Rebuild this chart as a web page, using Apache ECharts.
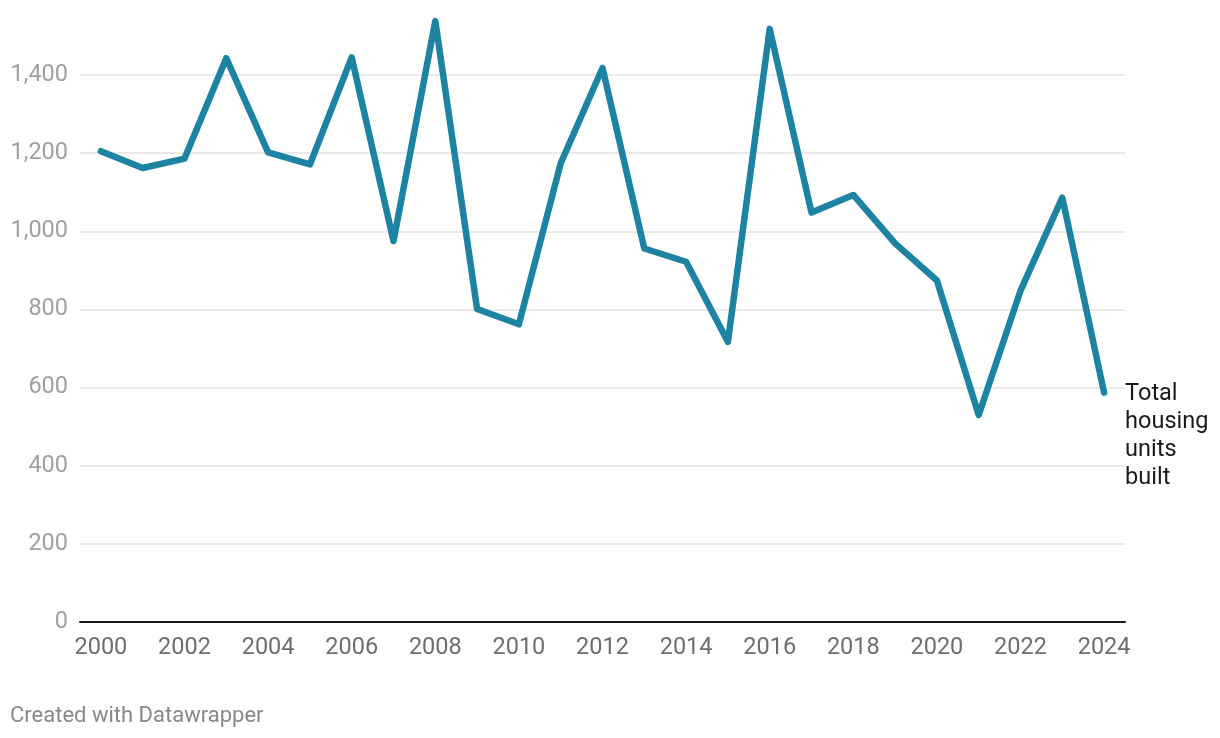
<!DOCTYPE html>
<html>
<head>
<meta charset="utf-8">
<script src="https://cdn.jsdelivr.net/npm/echarts@6/dist/echarts.min.js"></script>
<style>
  html, body { margin: 0; padding: 0; background: #fff; }
  #chart { width: 1220px; height: 738px; }
</style>
</head>
<body>
<div id="chart"></div>
<script>
const years = ['2000','2001','2002','2003','2004','2005','2006','2007','2008','2009','2010','2011','2012','2013','2014','2015','2016','2017','2018','2019','2020','2021','2022','2023','2024'];
const housingUnits = [1205, 1162, 1186, 1443, 1202, 1171, 1445, 975, 1538, 801, 762, 1174, 1418, 956, 922, 717, 1518, 1048, 1093, 969, 874, 530, 848, 1086, 587];
const seriesLabel = 'Total\nhousing\nunits\nbuilt';
const footer = 'Created with Datawrapper';

const chart = echarts.init(document.getElementById('chart'));
chart.setOption({
  backgroundColor: '#ffffff',
  animation: false,
  textStyle: { fontFamily: 'Roboto' },
  grid: { left: 80, right: 95, top: 75, bottom: 116, containLabel: false },
  xAxis: {
    type: 'category',
    data: years,
    boundaryGap: true,
    axisLine: { show: true, lineStyle: { color: '#1a1a1a', width: 2 } },
    axisTick: { show: false },
    axisLabel: { interval: 1, color: '#6e6e6e', fontSize: 23.5, margin: 14, fontFamily: 'Roboto' },
    splitLine: { show: false }
  },
  yAxis: {
    type: 'value',
    min: 0, max: 1400, interval: 200,
    axisLine: { show: false },
    axisTick: { show: false },
    axisLabel: {
      color: '#a0a0a0', fontSize: 23.5, margin: 12, fontFamily: 'Roboto',
      formatter: v => v.toLocaleString('en-US')
    },
    splitLine: { show: true, lineStyle: { color: '#e3e3e3', width: 1.5 } }
  },
  series: [{
    type: 'line',
    data: housingUnits,
    clip: false,
    symbol: 'none',
    lineStyle: { color: '#1d83a3', width: 6.5, join: 'round', cap: 'round' },
    itemStyle: { color: '#1d83a3' },
    endLabel: {
      show: true,
      formatter: seriesLabel,
      color: '#1a1a1a',
      fontSize: 23.5,
      lineHeight: 28,
      fontFamily: 'Roboto',
      distance: 21,
      align: 'left',
      verticalAlign: 'top',
      offset: [0, -13]
    }
  }],
  graphic: [{
    type: 'text',
    left: 10,
    top: 705,
    style: { text: footer, fill: '#888888', fontSize: 22, fontFamily: 'Roboto' }
  }]
});
</script>
</body>
</html>
